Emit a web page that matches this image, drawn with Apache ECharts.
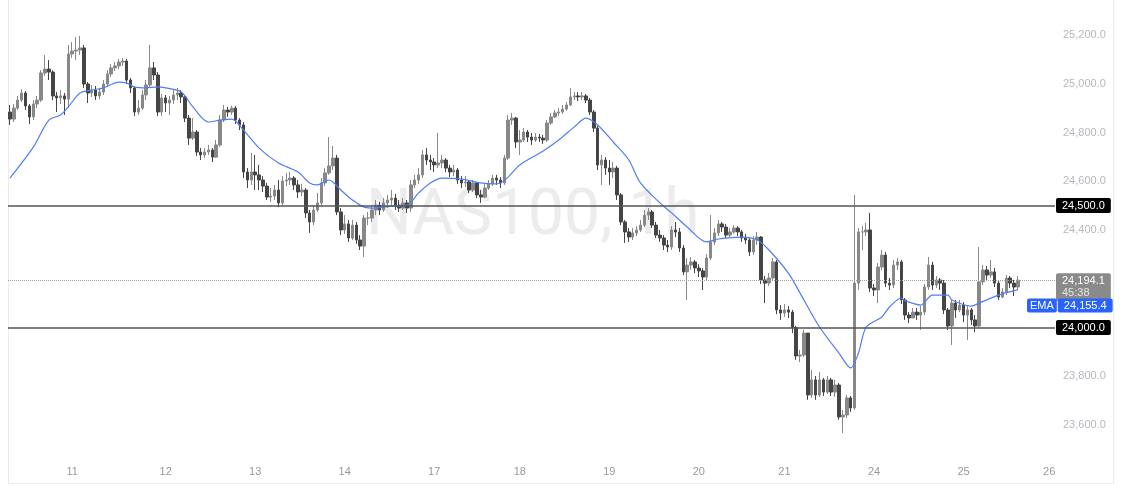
<!DOCTYPE html>
<html>
<head>
<meta charset="utf-8">
<title>NAS100, 1h</title>
<script src="https://cdn.jsdelivr.net/npm/echarts@6/dist/echarts.min.js"></script>
<style>
  html, body { margin: 0; padding: 0; background: #fff; }
  #chart { width: 1123px; height: 490px; }
</style>
</head>
<body>
<div id="chart"></div>
<script>
// hourly candles, open of each bar = close of the previous one
const firstOpen = 24884;
const closes = [
  24855, 24900, 24933, 24962, 24909, 24864, 24917, 24933, 25044, 25060,
  25048, 24950, 24942, 24950, 24937, 25122, 25134, 25138, 25147, 24999,
  24962, 24974, 24950, 24966, 24999, 25040, 25065, 25073, 25089, 25093,
  25015, 24983, 24884, 24900, 24954, 24995, 25065, 25036, 24884, 24942,
  24921, 24933, 24954, 24962, 24946, 24859, 24777, 24802, 24720, 24708,
  24720, 24728, 24699, 24749, 24851, 24892, 24884, 24900, 24851, 24831,
  24638, 24605, 24638, 24626, 24605, 24580, 24535, 24539, 24564, 24511,
  24601, 24605, 24613, 24585, 24556, 24564, 24470, 24433, 24482, 24511,
  24593, 24634, 24663, 24695, 24474, 24400, 24425, 24367, 24420, 24359,
  24334, 24449, 24449, 24482, 24502, 24482, 24511, 24523, 24531, 24502,
  24490, 24511, 24490, 24585, 24605, 24626, 24708, 24687, 24679, 24667,
  24675, 24687, 24654, 24638, 24646, 24605, 24593, 24597, 24564, 24593,
  24544, 24535, 24572, 24589, 24613, 24605, 24593, 24695, 24851, 24859,
  24761, 24769, 24802, 24781, 24769, 24781, 24777, 24769, 24839, 24864,
  24880, 24884, 24896, 24913, 24946, 24950, 24946, 24950, 24933, 24884,
  24818, 24667, 24687, 24654, 24638, 24654, 24544, 24433, 24392, 24371,
  24388, 24400, 24420, 24461, 24474, 24420, 24379, 24367, 24338, 24330,
  24400, 24392, 24326, 24228, 24256, 24269, 24244, 24232, 24207, 24285,
  24351, 24388, 24425, 24412, 24379, 24392, 24408, 24392, 24367, 24359,
  24310, 24359, 24371, 24195, 24182, 24203, 24269, 24072, 24059, 24072,
  24063, 24000, 23883, 23887, 23977, 23723, 23785, 23723, 23785, 23735,
  23785, 23735, 23764, 23633, 23641, 23711, 23670, 24182, 24392, 24392,
  24400, 24162, 24154, 24248, 24297, 24182, 24174, 24256, 24269, 24113,
  24051, 24039, 24063, 24051, 24063, 24166, 24256, 24174, 24195, 24182,
  24072, 24006, 24100, 24072, 24092, 24051, 24072, 24031, 24006, 24187,
  24236, 24215, 24228, 24182, 24125, 24146, 24203, 24182, 24166, 24194.1
];
const highs = [
  24913, 24917, 24950, 24978, 24970, 24917, 24933, 24950, 25056, 25118,
  25097, 25056, 24966, 24974, 24962, 25159, 25171, 25192, 25196, 25159,
  25007, 24995, 24991, 24983, 25015, 25056, 25081, 25089, 25102, 25106,
  25102, 25024, 24991, 24933, 24974, 25015, 25159, 25089, 25048, 24958,
  24954, 24950, 24974, 24983, 24974, 24954, 24872, 24859, 24810, 24736,
  24736, 24749, 24736, 24769, 24872, 24913, 24905, 24909, 24909, 24859,
  24843, 24654, 24716, 24708, 24667, 24621, 24593, 24572, 24585, 24605,
  24621, 24634, 24638, 24621, 24605, 24589, 24572, 24482, 24502, 24552,
  24613, 24654, 24781, 24745, 24708, 24490, 24461, 24441, 24441, 24433,
  24379, 24461, 24474, 24502, 24523, 24515, 24531, 24544, 24564, 24548,
  24523, 24531, 24523, 24605, 24626, 24654, 24728, 24736, 24708, 24695,
  24798, 24708, 24695, 24667, 24667, 24654, 24621, 24621, 24605, 24605,
  24597, 24564, 24589, 24605, 24626, 24626, 24617, 24708, 24872, 24880,
  24864, 24810, 24818, 24810, 24798, 24798, 24794, 24790, 24851, 24880,
  24892, 24900, 24913, 24925, 24983, 24966, 24966, 24966, 24958, 24942,
  24892, 24827, 24708, 24699, 24687, 24679, 24663, 24552, 24441, 24408,
  24408, 24416, 24441, 24482, 24490, 24482, 24433, 24400, 24379, 24359,
  24416, 24433, 24408, 24338, 24285, 24289, 24277, 24260, 24244, 24301,
  24461, 24408, 24441, 24433, 24425, 24408, 24420, 24416, 24400, 24384,
  24367, 24375, 24392, 24375, 24211, 24223, 24285, 24277, 24092, 24096,
  24088, 24072, 24006, 23908, 23990, 23977, 23826, 23801, 23818, 23793,
  23801, 23793, 23785, 23772, 23662, 23723, 23719, 24544, 24408, 24416,
  24429, 24470, 24178, 24264, 24318, 24310, 24203, 24277, 24285, 24277,
  24121, 24063, 24080, 24080, 24088, 24178, 24289, 24269, 24211, 24203,
  24195, 24080, 24113, 24113, 24113, 24104, 24092, 24080, 24051, 24330,
  24256, 24252, 24277, 24244, 24195, 24162, 24215, 24211, 24195, 24211
];
const lows = [
  24831, 24843, 24892, 24925, 24892, 24835, 24851, 24900, 24925, 25032,
  25015, 24933, 24884, 24917, 24872, 24900, 25106, 25097, 25118, 24983,
  24921, 24946, 24933, 24937, 24954, 24987, 25028, 25052, 25060, 25073,
  24999, 24962, 24868, 24872, 24892, 24933, 24983, 25015, 24868, 24868,
  24884, 24872, 24917, 24933, 24921, 24843, 24749, 24769, 24704, 24687,
  24695, 24708, 24679, 24695, 24741, 24843, 24864, 24872, 24835, 24810,
  24613, 24572, 24585, 24564, 24564, 24556, 24523, 24515, 24523, 24494,
  24502, 24580, 24585, 24564, 24531, 24539, 24449, 24388, 24420, 24474,
  24502, 24580, 24626, 24646, 24461, 24379, 24384, 24351, 24359, 24343,
  24318, 24289, 24420, 24433, 24461, 24461, 24474, 24490, 24502, 24482,
  24474, 24482, 24470, 24474, 24572, 24589, 24613, 24667, 24646, 24638,
  24654, 24654, 24638, 24617, 24621, 24589, 24572, 24576, 24552, 24556,
  24531, 24511, 24531, 24564, 24580, 24585, 24572, 24585, 24687, 24831,
  24736, 24708, 24761, 24761, 24749, 24761, 24761, 24753, 24761, 24831,
  24859, 24868, 24876, 24888, 24909, 24933, 24929, 24933, 24921, 24872,
  24802, 24646, 24585, 24626, 24585, 24613, 24523, 24420, 24347, 24351,
  24359, 24375, 24392, 24412, 24441, 24408, 24367, 24351, 24318, 24310,
  24318, 24371, 24310, 24215, 24113, 24236, 24223, 24207, 24154, 24195,
  24277, 24338, 24375, 24392, 24367, 24371, 24384, 24375, 24351, 24343,
  24293, 24297, 24338, 24178, 24100, 24170, 24195, 24055, 24031, 24043,
  24039, 23977, 23867, 23858, 23879, 23703, 23711, 23703, 23715, 23719,
  23727, 23719, 23715, 23621, 23567, 23629, 23654, 23662, 24154, 24318,
  24375, 24146, 24129, 24100, 24236, 24166, 24154, 24162, 24236, 24096,
  24031, 24018, 24039, 24031, 23990, 24051, 24154, 24154, 24162, 24154,
  24055, 23990, 23928, 24039, 24063, 24022, 23949, 24010, 23981, 24000,
  24174, 24195, 24203, 24166, 24113, 24121, 24133, 24162, 24129, 24154
];

// EMA at these bar positions
const emaAt = [0, 6, 10, 13, 15, 18, 21, 24, 28, 30, 32, 35, 38, 40, 44, 47, 51, 54, 57, 60,
  64, 69, 74, 77, 79, 82, 85, 88, 91, 94, 98, 102, 105, 108, 111, 116, 121, 124, 126, 128,
  131, 137, 141, 145, 148, 151, 155, 159, 162, 167, 170, 174, 179, 182, 188, 192, 195, 200, 203, 208,
  213, 216, 218, 220, 224, 226, 229, 230, 234, 237, 241, 242, 247, 249, 254, 259];
const emaVals = [24613, 24740, 24851, 24872, 24905, 24962, 24974, 24983, 25007, 25003, 24987, 24983, 24987, 24983, 24966, 24905, 24843, 24851, 24855, 24810,
  24736, 24675, 24638, 24593, 24585, 24605, 24564, 24523, 24494, 24490, 24498, 24502, 24552, 24593, 24613, 24609, 24593, 24589, 24593, 24617,
  24667, 24724, 24769, 24823, 24859, 24831, 24761, 24687, 24593, 24511, 24470, 24412, 24351, 24363, 24371, 24359, 24318, 24223, 24141, 24002,
  23895, 23834, 23895, 24002, 24043, 24084, 24121, 24109, 24092, 24133, 24133, 24113, 24088, 24100, 24133, 24155.4];

const dayLabels = ['11', '12', '13', '14', '17', '18', '19', '20', '21', '24', '25', '26'];
const dayStartIdx = [16, 40, 63, 86, 109, 131, 154, 177, 199, 222, 245, 267];
const slotCount = 269;

const levels = [24500, 24000];
const lastPrice = 24194.1;
const countdown = '45:38';
const emaLast = 24155.4;

const fmt = v => v.toLocaleString('en-US', { minimumFractionDigits: 1, maximumFractionDigits: 1 });
const FONT = 'Liberation Sans';

const categories = [];
for (let i = 0; i < slotCount; i++) {
  const k = dayStartIdx.indexOf(i);
  categories.push(k >= 0 ? dayLabels[k] : '');
}

const candles = closes.map((c, i) => {
  const o = i === 0 ? firstOpen : closes[i - 1];
  return [o, c, Math.min(lows[i], o, c), Math.max(highs[i], o, c)];
});

const levelLines = levels.map(v => ({
  yAxis: v,
  lineStyle: { color: '#555', width: 1.5, type: 'solid' },
  label: {
    show: true, position: 'end', distance: 1,
    formatter: fmt(v),
    backgroundColor: '#000', color: '#fff', fontFamily: FONT, fontSize: 11,
    padding: [2, 6, 2, 6], borderRadius: 2
  }
}));

const chart = echarts.init(document.getElementById('chart'));
chart.setOption({
  animation: false,
  backgroundColor: '#fff',
  grid: { left: 8, right: 68, top: 0, bottom: 40 },
  xAxis: {
    type: 'category',
    data: categories,
    boundaryGap: true,
    axisLine: { show: false },
    axisTick: { show: false },
    splitLine: { show: false },
    axisLabel: { interval: 0, color: '#999', fontFamily: FONT, fontSize: 11, margin: 16 }
  },
  yAxis: {
    type: 'value',
    position: 'right',
    min: 23497.3,
    max: 25343.6,
    splitNumber: 9,
    axisLine: { show: false },
    axisTick: { show: false },
    splitLine: { show: false },
    axisLabel: {
      color: '#b5b8bf', fontFamily: FONT, fontSize: 11, margin: 8,
      formatter: v => (Math.abs(v % 200) < 0.01 ? fmt(v) : '')
    }
  },
  graphic: [
    {
      type: 'rect', silent: true, z: 0,
      shape: { x: 8.5, y: -1, width: 1105, height: 484.5 },
      style: { fill: 'none', stroke: '#ebebeb', lineWidth: 1 }
    },
    {
      type: 'text', silent: true, z: 0, x: 366, y: 218,
      style: { text: 'NAS100, 1h', fontSize: 64, fontFamily: 'Roboto', fill: '#ececec', verticalAlign: 'middle' }
    }
  ],
  series: [
    {
      name: 'NAS100',
      type: 'candlestick',
      data: candles,
      barWidth: 3,
      itemStyle: {
        color: '#888888', borderColor: '#888888',
        color0: '#454545', borderColor0: '#454545',
        borderWidth: 1
      },
      markLine: {
        symbol: 'none', silent: true, animation: false,
        data: levelLines.concat([{
          yAxis: lastPrice,
          lineStyle: { color: '#a0a0a0', width: 1, type: 'dotted' },
          label: {
            show: true, position: 'end', distance: 1, offset: [0, 7],
            formatter: '{p|' + fmt(lastPrice) + '}\n{t|' + countdown + '}',
            backgroundColor: '#8a8a8a', padding: [2, 6, 2, 6], borderRadius: 2,
            rich: {
              p: { color: '#fff', fontFamily: FONT, fontSize: 11, lineHeight: 12 },
              t: { color: '#e4e4e4', fontFamily: FONT, fontSize: 11, lineHeight: 12 }
            }
          }
        }, {
          // EMA value tag on the price scale
          yAxis: emaLast,
          lineStyle: { color: 'rgba(0,0,0,0)', width: 0 },
          label: {
            show: true, position: 'end', distance: 1, offset: [-29, 16],
            formatter: '{a|EMA}{g|}{b|' + fmt(emaLast) + '}',
            rich: {
              a: { backgroundColor: '#2962ff', color: '#fff', fontFamily: FONT, fontSize: 11, padding: [2, 3, 1, 3], borderRadius: 2 },
              g: { width: 1 },
              b: { backgroundColor: '#2962ff', color: '#fff', fontFamily: FONT, fontSize: 11, padding: [2, 6, 1, 6], borderRadius: 2 }
            }
          }
        }])
      }
    },
    {
      name: 'EMA',
      type: 'line',
      data: emaAt.map((x, k) => [x, emaVals[k]]),
      symbol: 'none',
      smooth: 0.3,
      z: 3,
      lineStyle: { color: '#4d7ef7', width: 1.2 }
    }
  ]
});
window.addEventListener('resize', function () { chart.resize(); });
</script>
</body>
</html>
